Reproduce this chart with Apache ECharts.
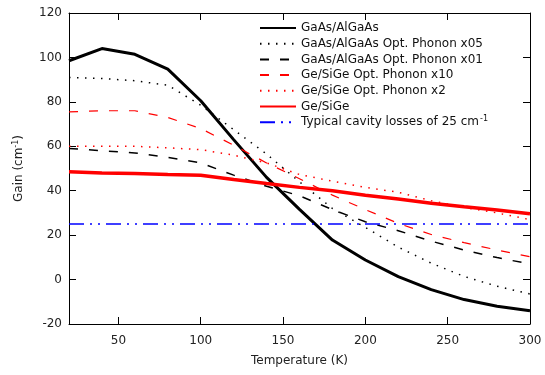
<!DOCTYPE html>
<html>
<head>
<meta charset="utf-8">
<script src="https://cdn.jsdelivr.net/npm/echarts@6/dist/echarts.min.js"></script>
<style>
  html, body { margin: 0; padding: 0; background: #fff; }
  #chart { width: 545px; height: 375px; }
</style>
</head>
<body>
<div id="chart"></div>
<script>
// Gain vs temperature

const temps = [20, 40, 60, 80, 100, 120, 140, 160, 180, 200, 220, 240, 260, 280, 300];
const gaas      = [98.5, 104, 101.4, 94.7, 80.5, 63, 46, 31.6, 17.8, 8.8, 1.3, -4.5, -9, -12, -14];
const gaasX05   = [91, 90.5, 89.5, 87.5, 78.5, 67.5, 56.5, 44, 32, 23.5, 14.6, 7.4, 1.4, -3, -6.5];
const gaasX01   = [59, 58, 57, 55, 52.5, 47, 42, 37.7, 31.5, 26, 22, 17.3, 13.3, 9.9, 7];
const geX10     = [75.5, 76, 76, 73, 68, 60.5, 52.5, 45.4, 38, 31.5, 25.3, 20.3, 16.6, 13.3, 10.3];
const geX2      = [60, 60, 60, 59.3, 58.5, 56, 52.5, 47.3, 44.3, 41.5, 39.3, 35.5, 32.5, 30, 27];
const geSiGe    = [48.5, 48, 47.7, 47.3, 47, 45, 43.2, 41.5, 40, 38, 36.3, 34.4, 32.8, 31.3, 29.6];
const cavityTemps = [20, 300];
const cavity      = [25, 25];

const xTicks = [50, 100, 150, 200, 250, 300];
const seriesNames = [
    'GaAs/AlGaAs',
    'GaAs/AlGaAs Opt. Phonon x05',
    'GaAs/AlGaAs Opt. Phonon x01',
    'Ge/SiGe Opt. Phonon x10',
    'Ge/SiGe Opt. Phonon x2',
    'Ge/SiGe',
    'Typical cavity losses of 25 cm-1'
];

const FONT = 'DejaVu Sans';

function pairs(xs, ys) {
    return xs.map((x, i) => [x, ys[i]]);
}

function lineSeries(name, xs, ys, color, width, type) {
    return {
        name: name,
        type: 'line',
        data: pairs(xs, ys),
        symbol: 'none',
        silent: true,
        animation: false,
        lineStyle: { color: color, width: width, type: type },
        itemStyle: { color: color }
    };
}

const chart = echarts.init(document.getElementById('chart'));

const tickStyle = { show: true, inside: true, length: 7, lineStyle: { color: '#000', width: 1 } };
const labelStyle = { color: '#222', fontFamily: FONT, fontSize: 12 };

const option = {
    backgroundColor: '#fff',
    animation: false,
    grid: { left: 69, right: 15, top: 13, bottom: 51 },
    legend: {
        orient: 'vertical',
        left: 254,
        top: 16,
        itemWidth: 36,
        itemHeight: 10,
        itemGap: 1.7,
        data: seriesNames,
        // hide the circle ECharts puts on line legend icons
        itemStyle: { color: 'rgba(0,0,0,0)', borderWidth: 0, opacity: 0 },
        textStyle: {
            fontFamily: FONT,
            fontSize: 12,
            color: '#111',
            lineHeight: 14,
            rich: {
                t: { fontFamily: FONT, fontSize: 12, color: '#111' },
                sup: { fontFamily: FONT, fontSize: 8, color: '#111', verticalAlign: 'top', lineHeight: 14, padding: [0, 0, 5, 1] }
            }
        },
        formatter: function (name) {
            if (name.endsWith('cm-1')) {
                return '{t|Typical cavity losses of 25 cm}{sup|-1}';
            }
            return name;
        }
    },
    xAxis: [
        {
            type: 'value',
            min: 20,
            max: 300,
            name: 'Temperature (K)',
            nameLocation: 'middle',
            nameGap: 31,
            nameTextStyle: { fontFamily: FONT, fontSize: 12, color: '#222' },
            axisLine: { show: true, onZero: false, lineStyle: { color: '#000', width: 1 } },
            axisTick: Object.assign({ customValues: xTicks }, tickStyle),
            axisLabel: Object.assign({ customValues: xTicks, margin: 11 }, labelStyle),
            splitLine: { show: false }
        },
        {
            type: 'value',
            position: 'top',
            min: 20,
            max: 300,
            axisLine: { show: true, onZero: false, lineStyle: { color: '#000', width: 1 } },
            axisTick: Object.assign({ customValues: xTicks }, tickStyle),
            axisLabel: { show: false },
            splitLine: { show: false }
        }
    ],
    yAxis: [
        {
            type: 'value',
            min: -20,
            max: 120,
            interval: 20,
            name: 'Gain (cm{sup|-1})',
            nameLocation: 'middle',
            nameGap: 44,
            nameTextStyle: {
                fontFamily: FONT, fontSize: 12, color: '#222',
                rich: { sup: { fontFamily: FONT, fontSize: 8, color: '#222', verticalAlign: 'top', padding: [0, 0, 5, 0] } }
            },
            axisLine: { show: true, onZero: false, lineStyle: { color: '#000', width: 1 } },
            axisTick: tickStyle,
            axisLabel: Object.assign({ margin: 7 }, labelStyle),
            splitLine: { show: false }
        },
        {
            type: 'value',
            position: 'right',
            min: -20,
            max: 120,
            interval: 20,
            axisLine: { show: true, onZero: false, lineStyle: { color: '#000', width: 1 } },
            axisTick: tickStyle,
            axisLabel: { show: false },
            splitLine: { show: false }
        }
    ],
    series: [
        lineSeries(seriesNames[0], temps, gaas, '#000000', 3, 'solid'),
        lineSeries(seriesNames[1], temps, gaasX05, '#000000', 1.5, [1.5, 6.5]),
        lineSeries(seriesNames[2], temps, gaasX01, '#000000', 1.5, [9, 11]),
        lineSeries(seriesNames[3], temps, geX10, '#ff0000', 1.2, [9, 11]),
        lineSeries(seriesNames[4], temps, geX2, '#ff0000', 1.5, [1.5, 6.5]),
        lineSeries(seriesNames[5], temps, geSiGe, '#ff0000', 3.5, 'solid'),
        lineSeries(seriesNames[6], cavityTemps, cavity, '#0000ff', 1.5, [15, 6, 2, 6, 2, 6])
    ]
};

chart.setOption(option);

window.addEventListener('resize', function () {
    chart.resize();
});
</script>
</body>
</html>
